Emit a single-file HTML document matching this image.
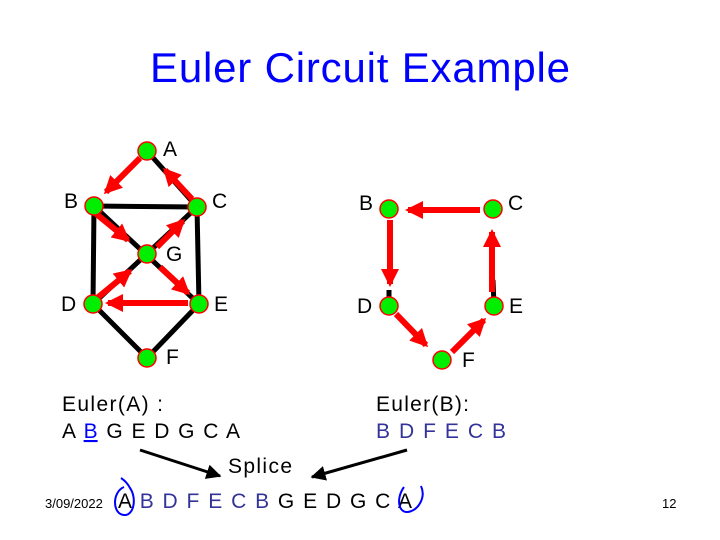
<!DOCTYPE html>
<html><head><style>
body{margin:0;background:#fff;}
svg{display:block;font-family:"Liberation Sans",Arial,sans-serif;}
</style></head><body>
<svg width="720" height="540" viewBox="0 0 720 540">
<defs>
<marker id="r" markerWidth="3" markerHeight="3" refX="2.5" refY="1.5" orient="auto" markerUnits="strokeWidth"><path d="M0,0 L3,1.5 L0,3z" fill="#f00"/></marker>
<marker id="k" markerWidth="5" markerHeight="5" refX="4.5" refY="2.5" orient="auto" markerUnits="strokeWidth"><path d="M0,0 L5,2.5 L0,5z" fill="#000"/></marker>
</defs>
<text x="360" y="82" font-size="42" fill="#0000ff" text-anchor="middle" textLength="420">Euler Circuit Example</text>
<g stroke="#000" stroke-width="5" fill="none">
<line x1="147" y1="151" x2="197" y2="207"/><line x1="94" y1="206" x2="197" y2="207"/>
<line x1="94" y1="206" x2="93" y2="304"/><line x1="197" y1="207" x2="199" y2="304"/>
<line x1="94" y1="206" x2="199" y2="304"/><line x1="197" y1="207" x2="93" y2="304"/>
<line x1="93" y1="304" x2="147" y2="358"/><line x1="199" y1="304" x2="147" y2="358"/>
<line x1="389" y1="290" x2="389" y2="306"/><line x1="493" y1="280" x2="494" y2="306"/>
</g>
<g stroke="#f00" stroke-width="6" fill="none" marker-end="url(#r)">
<line x1="140" y1="158" x2="106" y2="192"/>
<line x1="192" y1="199" x2="165" y2="170"/>
<line x1="94" y1="212" x2="128" y2="240"/>
<line x1="157" y1="247" x2="183" y2="221"/>
<line x1="160" y1="267" x2="188" y2="293"/>
<line x1="188" y1="303" x2="108" y2="303"/>
<line x1="96" y1="299" x2="130" y2="271"/>
<line x1="480" y1="210" x2="408" y2="210"/>
<line x1="390" y1="220" x2="390" y2="284"/>
<line x1="396" y1="314" x2="426" y2="345"/>
<line x1="452" y1="352" x2="484" y2="320"/>
<line x1="492" y1="292" x2="492" y2="232"/>
</g>
<g fill="#00ee00" stroke="#f00" stroke-width="1.5">
<circle cx="147" cy="151" r="9"/><circle cx="94" cy="206" r="9"/><circle cx="197" cy="207" r="9"/>
<circle cx="147" cy="254" r="9"/><circle cx="93" cy="304" r="9"/><circle cx="199" cy="304" r="9"/>
<circle cx="147" cy="358" r="9"/>
<circle cx="389" cy="209" r="9"/><circle cx="493" cy="209" r="9"/><circle cx="389" cy="306" r="9"/>
<circle cx="494" cy="306" r="9"/><circle cx="442" cy="360" r="9"/>
</g>
<g font-size="21" fill="#000">
<text x="163" y="156">A</text><text x="64" y="208">B</text><text x="212" y="208">C</text>
<text x="166" y="261">G</text><text x="61" y="311">D</text><text x="214" y="311">E</text>
<text x="166" y="364">F</text>
<text x="359" y="210">B</text><text x="508" y="210">C</text><text x="357" y="313">D</text>
<text x="509" y="313">E</text><text x="462" y="367">F</text>
<text x="62" y="411" textLength="101">Euler(A) :</text>
<text x="62" y="438" textLength="178">A <tspan fill="#0000ff" text-decoration="underline">B</tspan> G E D G C A</text>
<text x="376" y="411" textLength="93">Euler(B):</text>
<text x="376" y="438" fill="#333399" textLength="130">B D F E C B</text>
<text x="228" y="473" textLength="64">Splice</text>
<text x="118" y="508" textLength="294">A<tspan fill="#333399"> B D F E C B</tspan> G E D G C A</text>
</g>
<text x="45" y="508" font-size="13">3/09/2022</text>
<text x="662" y="508" font-size="13">12</text>
<g stroke="#000" stroke-width="3" marker-end="url(#k)">
<line x1="140" y1="450" x2="220" y2="476"/>
<line x1="407" y1="450" x2="312" y2="477"/>
</g>
<g stroke="#0000ff" stroke-width="2" fill="none">
<path d="M124,487 C112,492 112,514 124,515 C134,516 137,498 130,488 C128,484 124,480 121,478"/>
<path d="M404,487 C396,498 398,513 408,512 C419,510 426,497 421,486"/>
</g>
</svg>
</body></html>
